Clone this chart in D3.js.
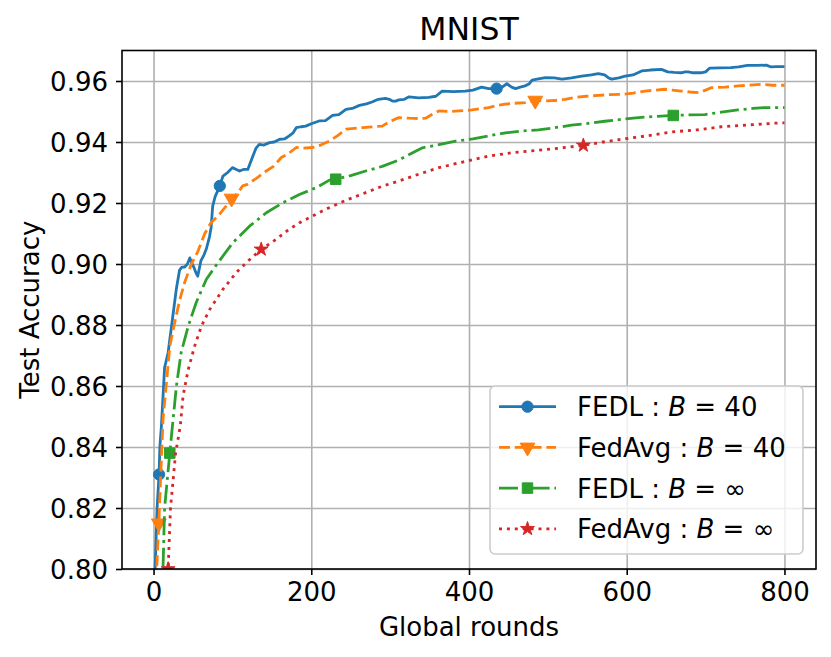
<!DOCTYPE html>
<meta charset="utf-8">
<script src="https://d3js.org/d3.v7.min.js"></script>
<body style="margin:0; background:#fff">
<div id="chart"></div>
</body>
<script>

// Data: [global round, test accuracy]
var fedl40 = [[1,0.780],[2,0.800],[4.5,0.820],[7,0.831],[8,0.840],[10,0.847],[14,0.866],[18.5,0.871],[23,0.880],[29,0.892],[33,0.898],[36,0.899],[39.5,0.899],[43,0.900],[46,0.902],[49,0.900],[51,0.899],[54,0.897],[56,0.896],[60,0.901],[64,0.903],[67,0.905],[71,0.909],[73,0.912],[75,0.919],[78,0.922],[84,0.9256],[88,0.9288],[94,0.930],[100,0.9316],[105,0.931],[109,0.9305],[114,0.931],[119.5,0.931],[126,0.9354],[130,0.938],[134,0.9392],[140,0.939],[147,0.9398],[153,0.940],[160,0.9409],[166,0.941],[172,0.942],[177,0.943],[181,0.9447],[187,0.945],[193,0.9452],[200,0.946],[210,0.9469],[218,0.947],[227,0.9487],[235,0.949],[244,0.9507],[252,0.951],[261,0.952],[270,0.9525],[277,0.9531],[285,0.954],[294,0.9543],[299,0.954],[303,0.9534],[307,0.9534],[311,0.9538],[318,0.954],[324,0.9548],[336,0.9545],[349,0.9546],[358,0.955],[366,0.9567],[380,0.9565],[395,0.9567],[405,0.957],[416,0.958],[425,0.9575],[435,0.9575],[442,0.958],[448,0.9591],[454,0.958],[459,0.9575],[465,0.958],[471,0.9584],[476,0.959],[480,0.9603],[488,0.9607],[497,0.9611],[508,0.961],[518,0.9606],[530,0.961],[543,0.9616],[555,0.962],[564,0.9624],[572,0.962],[577,0.961],[581,0.9606],[590,0.961],[598,0.9616],[608,0.962],[619,0.9633],[630,0.9636],[644,0.9638],[652,0.963],[660,0.9628],[669,0.9627],[674,0.963],[678,0.963],[684,0.9627],[694,0.9627],[700,0.963],[705,0.9642],[718,0.9643],[732,0.9644],[742,0.9646],[753,0.9651],[765,0.9651],[777,0.9652],[783,0.9646],[790,0.9647],[800,0.9647]];

var fedavg40 = [[1,0.775],[4,0.800],[6.7,0.815],[9,0.830],[12,0.849],[16,0.860],[20.6,0.873],[27,0.881],[33,0.888],[39.5,0.894],[48,0.900],[56,0.904],[65,0.910],[73,0.9136],[81.6,0.9157],[92,0.919],[99,0.9215],[106,0.923],[113,0.9256],[118,0.926],[130,0.928],[143,0.9305],[152,0.932],[162,0.9349],[170,0.936],[181,0.9382],[190,0.938],[202,0.9382],[212,0.939],[223,0.9403],[233,0.942],[244,0.9442],[255,0.9445],[265,0.9447],[278,0.945],[290,0.9452],[299,0.9466],[311,0.948],[324,0.9478],[335,0.9477],[345,0.9478],[353,0.949],[362,0.9502],[375,0.950],[387,0.9502],[404,0.9505],[425,0.9513],[436,0.952],[446,0.9524],[458,0.9527],[471,0.9529],[484,0.9536],[496,0.9535],[509,0.9536],[522,0.954],[534,0.9546],[549,0.955],[564,0.9553],[578,0.9555],[593,0.9556],[608,0.956],[623,0.9567],[636,0.957],[648,0.9573],[658,0.957],[669,0.9567],[680,0.9564],[692,0.9562],[700,0.957],[707,0.9578],[725,0.958],[741,0.9584],[755,0.9586],[770,0.9589],[785,0.9586],[800,0.9586]];

var fedlInf = [[10,0.780],[12,0.800],[14,0.820],[20.6,0.838],[24,0.847],[29,0.860],[35,0.871],[44,0.8796],[54,0.8873],[67,0.895],[81.6,0.9004],[100.6,0.907],[121.7,0.9124],[143,0.9168],[164,0.9201],[185,0.9228],[206,0.925],[223,0.9275],[231,0.9278],[250,0.929],[269,0.9305],[290,0.932],[311,0.9341],[341,0.9381],[360,0.939],[383,0.9403],[405,0.941],[425,0.942],[446,0.943],[467,0.9436],[488,0.944],[509,0.9447],[530,0.9455],[551,0.9461],[572,0.9468],[593,0.9474],[615,0.948],[637,0.9484],[659,0.9487],[680,0.9489],[699,0.949],[720,0.9498],[741,0.9505],[760,0.951],[775,0.9513],[800,0.9513]];

var fedavgInf = [[15,0.770],[18.5,0.800],[21.5,0.820],[28,0.838],[34,0.847],[37.4,0.8567],[44,0.8654],[52,0.873],[60.6,0.8796],[71,0.885],[88,0.8917],[105,0.8972],[120,0.901],[136.5,0.9048],[155,0.908],[170,0.911],[185,0.9135],[200,0.9155],[218.6,0.918],[245,0.921],[269,0.9234],[290,0.9255],[311,0.9272],[337,0.9295],[362,0.9316],[393,0.9335],[425,0.9354],[455,0.9365],[485,0.9372],[515,0.938],[545,0.9389],[570,0.94],[593.5,0.9409],[625,0.942],[657,0.9433],[690,0.944],[720,0.945],[760,0.9457],[796,0.9463],[800,0.9463]];

// rounds where each curve carries a marker
var fedl40Marks = [7, 84, 435];
var fedavg40Marks = [6.7, 99, 484];
var fedlInfMarks = [20.6, 231, 659];
var fedavgInfMarks = [18.5, 136.5, 545];

var seriesNames = ["FEDL", "FedAvg", "FEDL", "FedAvg"];
var batchLabels = ["40", "40", "\u221e", "\u221e"];

var xTicks = [0, 200, 400, 600, 800];
var yTicks = [0.80, 0.82, 0.84, 0.86, 0.88, 0.90, 0.92, 0.94, 0.96];

var W = 831, H = 657;
var margin = {top: 50.5, right: 15, bottom: 88, left: 122};
var width = W - margin.left - margin.right,
    height = H - margin.top - margin.bottom;
var font = "'DejaVu Sans', sans-serif";
var fs = 26;

var svg = d3.select("#chart").append("svg")
    .attr("width", W).attr("height", H)
    .style("font-family", font);

var plot = svg.append("g")
    .attr("transform", "translate(" + margin.left + "," + margin.top + ")");

var x = d3.scaleLinear().domain([-40, 840]).range([0, width]);
var y = d3.scaleLinear().domain([0.80, 0.97]).range([height, 0]);

// Grid
plot.append("g")
    .attr("transform", "translate(0," + height + ")")
    .call(d3.axisBottom(x).tickValues(xTicks).tickSize(-height).tickFormat(""))
    .call(function (g) { g.select(".domain").remove(); })
    .selectAll("line").attr("stroke", "#b0b0b0").attr("stroke-width", 1.6);
plot.append("g")
    .call(d3.axisLeft(y).tickValues(yTicks).tickSize(-width).tickFormat(""))
    .call(function (g) { g.select(".domain").remove(); })
    .selectAll("line").attr("stroke", "#b0b0b0").attr("stroke-width", 1.6);

// Axes
var xAxis = plot.append("g")
    .attr("transform", "translate(0," + height + ")")
    .call(d3.axisBottom(x).tickValues(xTicks).tickSize(6).tickPadding(8).tickSizeOuter(0));
var yAxis = plot.append("g")
    .call(d3.axisLeft(y).tickValues(yTicks).tickFormat(d3.format(".2f")).tickSize(6).tickPadding(8).tickSizeOuter(0));
[xAxis, yAxis].forEach(function (a) {
    a.select(".domain").remove();
    a.selectAll("line").attr("stroke", "#000").attr("stroke-width", 1.6);
    a.selectAll("text").attr("font-size", fs).attr("font-family", font).attr("fill", "#000");
});
yAxis.selectAll("text").attr("dy", "0.36em");

// Curves
plot.append("clipPath").attr("id", "clip")
    .append("rect").attr("width", width).attr("height", height);

var line = d3.line()
    .x(function (d) { return x(d[0]); })
    .y(function (d) { return y(d[1]); });

var styles = [
    {data: fedl40, marks: fedl40Marks, color: "#1f77b4", dash: null, symbol: d3.symbolCircle, size: 100, rot: 0},
    {data: fedavg40, marks: fedavg40Marks, color: "#ff7f0e", dash: "11,4.8", symbol: d3.symbolTriangle, size: 95, rot: 180},
    {data: fedlInf, marks: fedlInfMarks, color: "#2ca02c", dash: "19,4.8,3,4.8", symbol: d3.symbolSquare, size: 110, rot: 0},
    {data: fedavgInf, marks: fedavgInfMarks, color: "#d62728", dash: "3,4.9", symbol: d3.symbolStar, size: 60, rot: 0}
];

var curves = plot.append("g").attr("clip-path", "url(#clip)");

styles.forEach(function (s) {
    curves.append("path")
        .datum(s.data)
        .attr("fill", "none")
        .attr("stroke", s.color)
        .attr("stroke-width", 2.8)
        .attr("stroke-linejoin", "round")
        .attr("stroke-dasharray", s.dash)
        .attr("d", line);

    var pts = s.marks.map(function (r) {
        return s.data.find(function (d) { return d[0] === r; });
    });
    curves.selectAll(null)
        .data(pts)
        .enter()
        .append("path")
        .attr("d", d3.symbol().type(s.symbol).size(s.size))
        .attr("transform", function (d) {
            return "translate(" + x(d[0]) + "," + y(d[1]) + ") rotate(" + s.rot + ")";
        })
        .attr("fill", s.color)
        .attr("stroke", s.color)
        .attr("stroke-width", 1);
});

// Frame
plot.append("rect")
    .attr("width", width).attr("height", height)
    .attr("fill", "none").attr("stroke", "#000").attr("stroke-width", 1.6);

// Labels
svg.append("text")
    .attr("x", margin.left + width / 2).attr("y", 40)
    .attr("text-anchor", "middle").attr("font-size", 31.5)
    .text("MNIST");
svg.append("text")
    .attr("x", margin.left + width / 2).attr("y", 636)
    .attr("text-anchor", "middle").attr("font-size", fs)
    .text("Global rounds");
svg.append("text")
    .attr("transform", "translate(39," + (margin.top + height / 2) + ") rotate(-90)")
    .attr("text-anchor", "middle").attr("font-size", fs)
    .text("Test Accuracy");

// Legend
var legend = svg.append("g").attr("transform", "translate(490,386)");
legend.append("rect")
    .attr("width", 313).attr("height", 168).attr("rx", 5)
    .attr("fill", "#fff").attr("fill-opacity", 0.8)
    .attr("stroke", "#cccccc").attr("stroke-width", 1.6);

styles.forEach(function (s, i) {
    var row = legend.append("g").attr("transform", "translate(0," + (20.7 + i * 40.7) + ")");
    row.append("line")
        .attr("x1", 9).attr("x2", 66)
        .attr("stroke", s.color).attr("stroke-width", 2.8)
        .attr("stroke-dasharray", s.dash);
    row.append("path")
        .attr("d", d3.symbol().type(s.symbol).size(s.size))
        .attr("transform", "translate(37.5,0) rotate(" + s.rot + ")")
        .attr("fill", s.color).attr("stroke", s.color);
    var t = row.append("text")
        .attr("x", 87).attr("y", 9.5)
        .attr("font-size", fs);
    t.append("tspan").text(seriesNames[i] + " : ");
    t.append("tspan").attr("font-style", "italic").text("B");
    t.append("tspan").text(" = " + batchLabels[i]);
});

</script>
